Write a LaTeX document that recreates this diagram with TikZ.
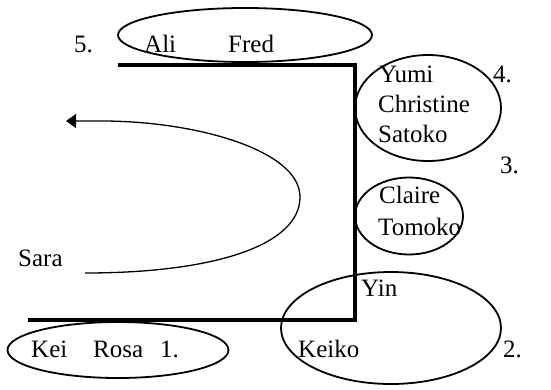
\documentclass[tikz,border=0pt]{standalone}
\usepackage{fontspec}
\setmainfont{Liberation Serif}
\usetikzlibrary{shapes.geometric,arrows.meta}
\tikzset{
  grp/.style={draw, ellipse, line width=1.8pt, inner sep=0pt},
  lbl/.style={anchor=base west, inner sep=0pt, font=\fontsize{25}{30}\selectfont},
  wall/.style={line width=4pt},
  move/.style={line width=1.3pt, -{Triangle[length=10pt,width=14pt]}}
}
\begin{document}
\begin{tikzpicture}[x=1pt,y=-1pt]
\useasboundingbox (0,0) rectangle (551,389);
% groups (ellipses)
\node[grp, minimum width=254, minimum height=54] (g5) at (245,35) {};
\node[grp, minimum width=146, minimum height=106] (g4) at (428,108) {};
\node[grp, minimum width=108, minimum height=77] (g3) at (409,216) {};
\node[grp, minimum width=220, minimum height=112] (g2) at (391,328) {};
\node[grp, minimum width=221, minimum height=56] (g1) at (118,350) {};
% wall
\coordinate (w1) at (118,65);
\coordinate (w2) at (355,65);
\coordinate (w3) at (355,320);
\coordinate (w4) at (28,320);
\draw[wall] (w1) -- (w2) -- (w3) -- (w4);
% labels
\node[lbl] (n5) at (74,52) {5.};
\node[lbl] (ali) at (144,52) {Ali};
\node[lbl] (fred) at (228,52) {Fred};
\node[lbl] (yumi) at (379,82) {Yumi};
\node[lbl] (n4) at (493,82) {4.};
\node[lbl] (chr) at (378,112) {Christine};
\node[lbl] (sat) at (378,142) {Satoko};
\node[lbl] (n3) at (500,173) {3.};
\node[lbl] (cla) at (379,203) {Claire};
\node[lbl] (tom) at (378,235) {Tomoko};
\node[lbl] (sara) at (18,266) {Sara};
\node[lbl] (yin) at (361,296) {Yin};
\node[lbl] (kei) at (31,357) {Kei};
\node[lbl] (rosa) at (93,357) {Rosa};
\node[lbl] (n1) at (160,357) {1.};
\node[lbl] (keiko) at (298,357) {Keiko};
\node[lbl] (n2) at (503,357) {2.};
% movement arrow
\coordinate (s) at (85,273);
\coordinate (r) at (300,197);
\coordinate (t) at (102,121);
\coordinate (e) at (66,121);
\draw[move] (s) .. controls (215,273) and (300,245) .. (r)
  .. controls (300,150) and (195,121) .. (t) -- (e);
\end{tikzpicture}
\end{document}
